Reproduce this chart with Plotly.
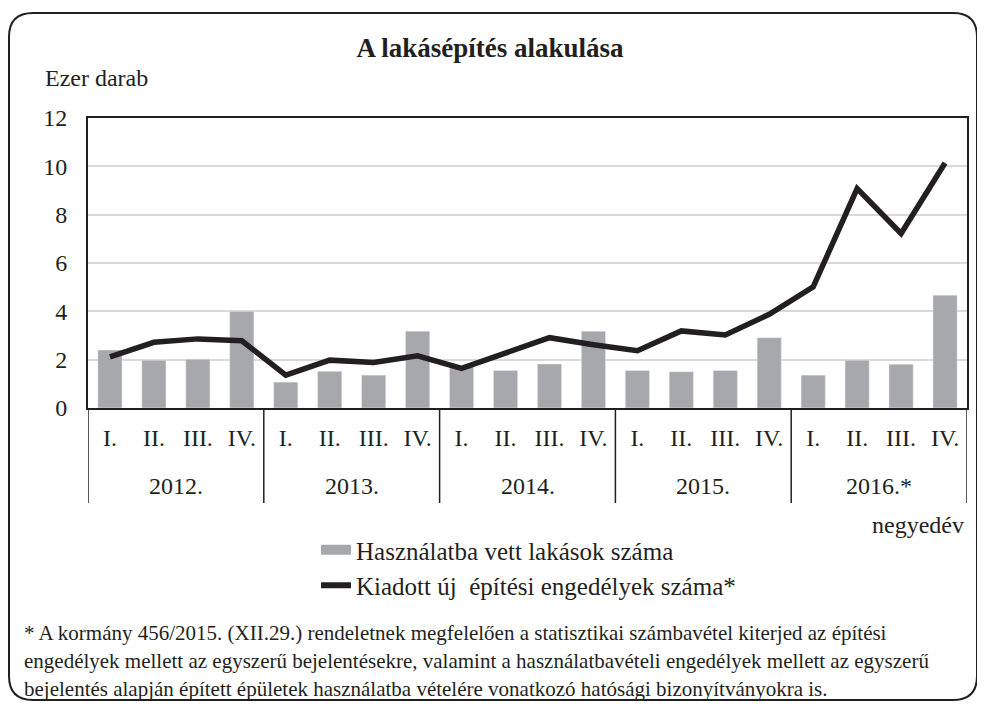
import plotly.graph_objects as go

years = ["2012.", "2013.", "2014.", "2015.", "2016.*"]
quarters = ["I.", "II.", "III.", "IV."]
completed = [2.40, 1.98, 2.02, 4.00, 1.07, 1.52, 1.36, 3.18, 1.72, 1.55,
             1.82, 3.18, 1.55, 1.50, 1.55, 2.91, 1.36, 1.98, 1.81, 4.67]
permits = [2.12, 2.72, 2.86, 2.78, 1.36, 1.98, 1.88, 2.16, 1.64, 2.27,
           2.91, 2.62, 2.37, 3.19, 3.02, 3.88, 5.01, 9.08, 7.22, 10.14]
name_bar = "Használatba vett lakások száma"
name_line = "Kiadott új  építési engedélyek száma*"
footnote = [
    "* A kormány 456/2015. (XII.29.) rendeletnek megfelelően a statisztikai számbavétel kiterjed az építési",
    "engedélyek mellett az egyszerű bejelentésekre, valamint a használatbavételi engedélyek mellett az egyszerű",
    "bejelentés alapján épített épületek használatba vételére vonatkozó hatósági bizonyítványokra is.",
]

nq = len(quarters)
idx = list(range(len(years) * nq))
tick_text = [q for _ in years for q in quarters]

FONT = "Liberation Serif"
BAR_C = "#A7A8AB"
LINE_C = "#231F20"
OFF = 8  # page body margin
W, H = 985 - OFF, 708 - OFF
L, T = 88 - OFF, 118 - OFF
R = W - (967 - OFF)
B = H - (408 - OFF)
PW, PH = W - L - R, H - T - B


def px(x):
    return (x - OFF - L) / PW


def py(y):
    return (H - B - (y - OFF)) / PH


fig = go.Figure()
fig.add_trace(go.Bar(x=idx, y=completed, marker_color=BAR_C, width=0.55,
                     showlegend=False, name=name_bar))
fig.add_trace(go.Scatter(x=idx, y=permits, mode="lines",
                         line=dict(color=LINE_C, width=5.5), showlegend=False,
                         name=name_line))
# legend entries
fig.add_trace(go.Scatter(x=[None], y=[None], mode="lines",
                         line=dict(color=BAR_C, width=16), name=name_bar))
fig.add_trace(go.Scatter(x=[None], y=[None], mode="lines",
                         line=dict(color=LINE_C, width=6), name=name_line))

# year dividers under the axis
for k in range(len(years) + 1):
    xb = k * nq - 0.5
    fig.add_shape(type="line", xref="x", yref="paper", x0=xb, x1=xb,
                  y0=0, y1=py(503), line=dict(color=LINE_C, width=1.5))

# rounded frame
x0, y0, x1, y1, r = 9, 13, 977, 700, 24
path = (f"M {px(x0 + r)} {py(y0)} L {px(x1 - r)} {py(y0)} "
        f"Q {px(x1)} {py(y0)} {px(x1)} {py(y0 + r)} "
        f"L {px(x1)} {py(y1 - r)} Q {px(x1)} {py(y1)} {px(x1 - r)} {py(y1)} "
        f"L {px(x0 + r)} {py(y1)} Q {px(x0)} {py(y1)} {px(x0)} {py(y1 - r)} "
        f"L {px(x0)} {py(y0 + r)} Q {px(x0)} {py(y0)} {px(x0 + r)} {py(y0)} Z")
fig.add_shape(type="path", path=path, xref="paper", yref="paper",
              line=dict(color=LINE_C, width=2), layer="below")

ann = [
    dict(text="Ezer darab", x=px(43), y=py(78), xanchor="left", yanchor="middle",
         xref="paper", font=dict(size=24)),
    dict(text="negyedév", x=px(966), y=py(525), xanchor="right", yanchor="middle",
         xref="paper", font=dict(size=24)),
]
for k, yr in enumerate(years):
    ann.append(dict(text=yr, x=k * nq + (nq - 1) / 2, xref="x", y=py(486),
                    xanchor="center", yanchor="middle", font=dict(size=24)))
for i, line in enumerate(footnote):
    ann.append(dict(text=line, x=px(22), y=py(633 + 28 * i), xanchor="left",
                    xref="paper", yanchor="middle", font=dict(size=21)))
for a in ann:
    a.update(yref="paper", showarrow=False)
    a["font"].update(family=FONT, color="#231F20")

fig.update_layout(
    width=W, height=H,
    margin=dict(l=L, r=R, t=T, b=B),
    paper_bgcolor="white", plot_bgcolor="white",
    font=dict(family=FONT, size=24, color="#231F20"),
    title=dict(text="<b>A lakásépítés alakulása</b>", x=(490 - OFF) / W,
               xanchor="center", y=1 - (48 - OFF) / H, yanchor="middle",
               font=dict(size=27, family=FONT)),
    annotations=ann,
    legend=dict(x=px(316), y=py(527), xanchor="left", yanchor="top",
                font=dict(size=25, family=FONT), bgcolor="rgba(0,0,0,0)",
                tracegroupgap=0, itemwidth=30),
    xaxis=dict(range=[-0.5, len(idx) - 0.5], tickmode="array", tickvals=idx,
               ticktext=tick_text, showline=True, linecolor=LINE_C, linewidth=2,
               mirror=True, tickfont=dict(size=24, family=FONT), showgrid=False,
               zeroline=False, ticks="", ticklabelstandoff=7),
    yaxis=dict(range=[0, 12], dtick=2, showgrid=True, gridcolor="#D9D9D9",
               gridwidth=1.5, showline=True, linecolor=LINE_C, linewidth=2,
               mirror=True, tickfont=dict(size=24, family=FONT),
               ticklabelstandoff=14, zeroline=False),
)

fig.write_html("out.html")
